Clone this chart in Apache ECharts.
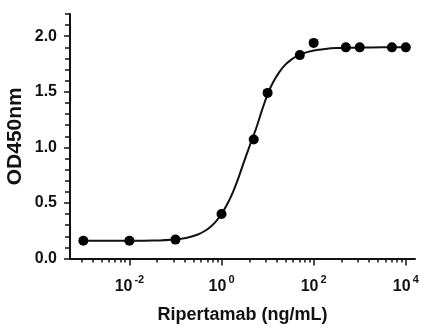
<!DOCTYPE html>
<html>
<head>
<meta charset="utf-8">
<script src="https://cdn.jsdelivr.net/npm/echarts@6/dist/echarts.min.js"></script>
<style>
html,body{margin:0;padding:0;background:#fff;}
#chart{width:436px;height:331px;}
</style>
</head>
<body>
<div id="chart"></div>
<script>
// Measured points (concentration in ng/mL, OD450)
const concentrations = [0.001, 0.01, 0.1, 1, 5, 10, 50, 100, 500, 1000, 5000, 10000];
const odValues = [0.16, 0.16, 0.17, 0.40, 1.07, 1.49, 1.83, 1.94, 1.90, 1.90, 1.90, 1.90];

// Fitted curve (log10 concentration, OD450)
const curveLogConc = [-3, -2.5, -2, -1.5, -1, -0.75, -0.5, -0.375, -0.25, -0.125, 0, 0.125, 0.25, 0.375, 0.5, 0.625, 0.75, 0.875, 1, 1.125, 1.25, 1.375, 1.5, 1.625, 1.75, 2, 2.25, 2.5, 3, 3.5, 4];
const curveOD = [0.16, 0.16, 0.16, 0.162, 0.172, 0.187, 0.218, 0.245, 0.282, 0.332, 0.40, 0.49, 0.60, 0.735, 0.885, 1.03, 1.17, 1.33, 1.48, 1.59, 1.675, 1.74, 1.785, 1.818, 1.843, 1.872, 1.886, 1.893, 1.898, 1.90, 1.90];

// Axis ticks
const xMajorExponents = [-4, -2, 0, 2, 4];
const xLabelExponents = [-2, 0, 2, 4];
const xMinorMultipliers = [2, 3, 4, 5, 6, 7, 8, 9];
const yMajorTicks = [0, 0.5, 1.0, 1.5, 2.0];
const yMinorTicks = [0.1, 0.2, 0.3, 0.4, 0.6, 0.7, 0.8, 0.9, 1.1, 1.2, 1.3, 1.4, 1.6, 1.7, 1.8, 1.9, 2.1, 2.2];

const X_MIN = -3.29, X_MAX = 4.2;

const xMinorTicks = [];
xMajorExponents.forEach(function (e) {
  xMinorMultipliers.forEach(function (k) {
    const v = e + 2 * Math.log10(k);
    if (v > X_MIN && v < X_MAX) xMinorTicks.push(v);
  });
});
const xMajorVisible = xMajorExponents.filter(function (e) { return e >= X_MIN && e <= X_MAX; });

const FONT = '"Liberation Sans", Arial, sans-serif';
const INK = '#111';

const chart = echarts.init(document.getElementById('chart'), null, {renderer: 'canvas'});
chart.setOption({
  animation: false,
  backgroundColor: '#fff',
  grid: {left: 70, top: 14, right: 21, bottom: 72.5, containLabel: false, outerBoundsMode: 'none'},
  xAxis: [{
    type: 'value',
    min: X_MIN, max: X_MAX,
    name: 'Ripertamab (ng/mL)',
    nameLocation: 'middle',
    nameGap: 47.5,
    nameMoveOverlap: false,
    nameTextStyle: {fontFamily: FONT, fontWeight: 'bold', fontSize: 18, color: INK},
    axisLine: {show: true, onZero: false, lineStyle: {color: INK, width: 2}},
    axisTick: {show: true, length: 7, customValues: xMajorVisible, lineStyle: {color: INK, width: 1.5}},
    axisLabel: {
      show: true, margin: 16, customValues: xLabelExponents,
      formatter: function (v) { return '{b|10}{s|' + (v === 0 ? '0' : v) + '}'; },
      rich: {
        b: {fontFamily: FONT, fontWeight: 'bold', fontSize: 16, color: INK, lineHeight: 20, verticalAlign: 'bottom'},
        s: {fontFamily: FONT, fontWeight: 'bold', fontSize: 11, color: INK, lineHeight: 12, verticalAlign: 'top', padding: [0, 0, 0, 2]}
      }
    },
    splitLine: {show: false}
  }, {
    type: 'value',
    min: X_MIN, max: X_MAX,
    position: 'bottom',
    axisLine: {show: false, onZero: false},
    axisTick: {show: true, length: 4, customValues: xMinorTicks, lineStyle: {color: INK, width: 1.5}},
    axisLabel: {show: false},
    splitLine: {show: false}
  }],
  yAxis: [{
    type: 'value',
    min: 0, max: 2.2,
    name: 'OD450nm',
    nameLocation: 'middle',
    nameGap: 44,
    nameMoveOverlap: false,
    nameTextStyle: {fontFamily: FONT, fontWeight: 'bold', fontSize: 21, color: INK},
    axisLine: {show: true, onZero: false, lineStyle: {color: INK, width: 2}},
    axisTick: {show: true, length: 6, customValues: yMajorTicks, lineStyle: {color: INK, width: 1.5}},
    axisLabel: {
      show: true, margin: 13, customValues: yMajorTicks,
      fontFamily: FONT, fontWeight: 'bold', fontSize: 16, color: INK,
      formatter: function (v) { return v.toFixed(1); }
    },
    splitLine: {show: false}
  }, {
    type: 'value',
    min: 0, max: 2.2,
    position: 'left',
    axisLine: {show: false, onZero: false},
    axisTick: {show: true, length: 5, customValues: yMinorTicks, lineStyle: {color: INK, width: 1.5}},
    axisLabel: {show: false},
    splitLine: {show: false}
  }],
  series: [{
    type: 'line',
    xAxisIndex: 0, yAxisIndex: 0,
    data: curveLogConc.map(function (x, i) { return [x, curveOD[i]]; }),
    showSymbol: false,
    symbol: 'none',
    smooth: 0.3,
    lineStyle: {color: INK, width: 2},
    z: 2
  }, {
    type: 'scatter',
    xAxisIndex: 0, yAxisIndex: 0,
    data: concentrations.map(function (c, i) { return [Math.log10(c), odValues[i]]; }),
    symbol: 'circle',
    symbolSize: 10,
    itemStyle: {color: '#000', opacity: 1},
    z: 3
  }]
});
</script>
</body>
</html>
